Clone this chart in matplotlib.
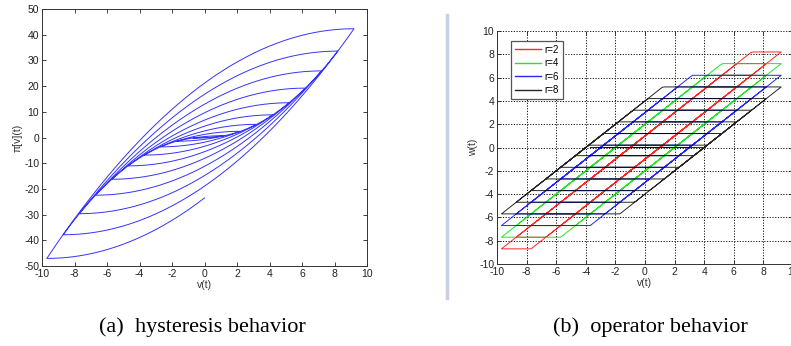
import numpy as np
import matplotlib.pyplot as plt
from matplotlib.lines import Line2D

# Turning points of the input v(t): a growing oscillation that returns to zero
v_start = 0.0
v_peaks = [0.2, 1.2, 2.2, 3.2, 4.2, 5.2, 6.2, 7.2, 8.2, 9.2]
v_troughs = [-0.7, -1.7, -2.7, -3.7, -4.7, -5.7, -6.7, -7.7, -8.7, -9.7]
v_end = 0.0

# Play operators shown in panel (b)
op_widths = [2, 4, 6, 8]
op_labels = ['r=2', 'r=4', 'r=6', 'r=8']
op_colors = ['#ff0000', '#00e000', '#0000ff', '#000000']

# Prandtl-Ishlinskii model for panel (a): uniform weight over widths 0..20
pi_widths = np.arange(0.1, 20.0, 0.2)
pi_weight = 0.1

SAMPLES_PER_SWEEP = 120


def build_input(start, peaks, troughs, end):
    turns = [start]
    for p, t in zip(peaks, troughs):
        turns += [p, t]
    turns.append(end)
    parts = [np.linspace(a, b, SAMPLES_PER_SWEEP, endpoint=False)
             for a, b in zip(turns[:-1], turns[1:])]
    parts.append([turns[-1]])
    return np.concatenate(parts)


def play(v, r, w0=0.0):
    """Backlash (play) operator of total width r."""
    h = r / 2.0
    out = np.empty_like(v)
    w = w0
    for i, x in enumerate(v):
        w = max(x - h, min(x + h, w))
        out[i] = w
    return out


v = build_input(v_start, v_peaks, v_troughs, v_end)
y_pi = sum(pi_weight * play(v, r) for r in pi_widths)

plt.rcParams['font.family'] = ['Liberation Sans', 'DejaVu Sans']
plt.rcParams['axes.unicode_minus'] = False
tick_kw = dict(direction='in', labelsize=7.5, length=3, width=0.6,
               colors='#222222', top=True, right=True, pad=2)

fig = plt.figure(figsize=(7.91, 3.46), dpi=100)

# ── (a) hysteresis behavior ── #
ax1 = fig.add_axes([42 / 791, 1 - 266 / 346, 325 / 791, 257 / 346])
ax1.plot(v, y_pi, color='#0000ff', linewidth=0.7, alpha=0.8)
ax1.set_xlim(-10, 10)
ax1.set_ylim(-50, 50)
ax1.set_xticks(np.arange(-10, 11, 2))
ax1.set_yticks(np.arange(-50, 51, 10))
ax1.tick_params(**tick_kw)
ax1.set_xlabel('v(t)', fontsize=7.5, color='#333333', labelpad=1)
ax1.set_ylabel('π[v](t)', fontsize=7.5, color='#333333', labelpad=1)
for s in ax1.spines.values():
    s.set_linewidth(0.7)
    s.set_color('#333333')

# ── (b) operator behavior ── #
ax2 = fig.add_axes([497 / 791, 1 - 264 / 346, 296 / 791, 233 / 346])
for r, lab, c in zip(op_widths, op_labels, op_colors):
    ax2.plot(v, play(v, r), color=c, linewidth=0.7, alpha=0.85, label=lab)
ax2.set_xlim(-10, 10)
ax2.set_ylim(-10, 10)
ax2.set_xticks(np.arange(-10, 11, 2))
ax2.set_yticks(np.arange(-10, 11, 2))
ax2.tick_params(**tick_kw)
ax2.grid(True, linestyle=(0, (1.2, 1.6)), color='#111111', linewidth=0.7)
ax2.set_xlabel('v(t)', fontsize=7.5, color='#333333', labelpad=1)
ax2.set_ylabel('w(t)', fontsize=7.5, color='#333333', labelpad=1)
ax2.spines['top'].set_visible(False)
ax2.spines['right'].set_visible(False)
for s in ('left', 'bottom'):
    ax2.spines[s].set_linewidth(0.7)
    ax2.spines[s].set_color('#333333')
leg = ax2.legend(loc='upper left', bbox_to_anchor=(0.03, 0.98), fontsize=7,
                 handlelength=2.7, handletextpad=0.3, labelspacing=0.35,
                 borderpad=0.45, fancybox=False, framealpha=1)
leg.get_frame().set_edgecolor('#555555')
leg.get_frame().set_linewidth(0.9)
for line in leg.get_lines():
    line.set_linewidth(1.0)

# divider between the two panels
fig.add_artist(Line2D([447 / 791] * 2, [1 - 15 / 346, 1 - 298 / 346],
                      color='#c9d0e2', linewidth=2.5))

cap_kw = dict(ha='center', va='center', fontsize=16, family='Liberation Serif')
fig.text(202 / 791, 1 - 327 / 346, '(a)  hysteresis behavior', **cap_kw)
fig.text(650 / 791, 1 - 327 / 346, '(b)  operator behavior', **cap_kw)

fig.savefig('out.png', dpi=100)
